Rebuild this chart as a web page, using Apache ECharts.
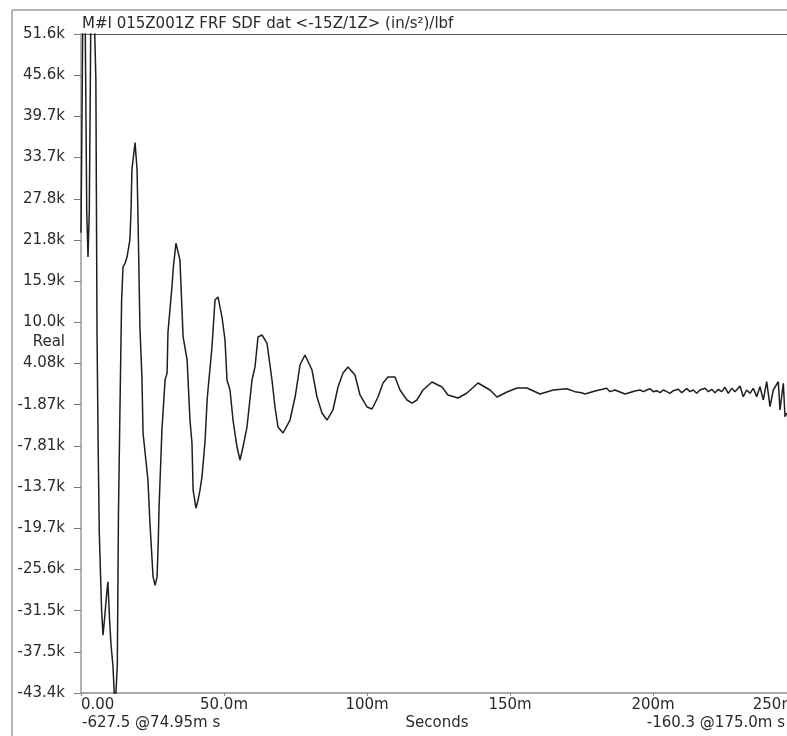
<!DOCTYPE html>
<html>
<head>
<meta charset="utf-8">
<script src="https://cdn.jsdelivr.net/npm/echarts@6/dist/echarts.min.js"></script>
<style>
html,body{margin:0;padding:0;background:#fff;}
#chart{width:787px;height:736px;}
</style>
</head>
<body>
<div id="chart"></div>
<script>
// ---- data (time in ms, real part in thousands) ----
const timeMs = [
  0, 0.7, 1.4, 2.0, 2.45, 2.9, 3.5, 4.5, 5.2, 5.6, 6.0, 6.4, 7.2, 7.7, 8.4, 8.9, 9.4, 10.0, 10.5, 11.2,
  11.9, 12.4, 12.7, 13.1, 13.6, 14.2, 14.7, 15.4, 16.1, 17.1, 17.5, 17.8, 18.9, 19.6, 19.9, 20.6, 21.3, 21.7,
  23.4, 24.1, 25.2, 25.9, 26.6, 27.0, 27.3, 28.3, 29.4, 30.1, 30.4, 31.8, 32.3, 33.2, 34.6, 35.7, 37.1, 38.1,
  38.8, 39.2, 40.2, 41.0, 41.6, 42.3, 43.4, 44.1, 44.4, 45.8, 46.85, 47.9, 49.3, 50.35, 51.05, 52.1, 53.15,
  54.55, 55.6, 56.64, 58.04, 59.79, 60.84, 61.89, 63.29, 65.03, 66.78, 67.83, 68.88, 70.63, 73.08, 74.93,
  76.57, 78.32, 80.77, 82.52, 84.27, 86.01, 88.11, 89.86, 91.61, 93.36, 95.80, 97.55, 100.0, 101.75, 103.85,
  105.59, 107.34, 109.79, 111.54, 113.99, 115.73, 117.48, 119.58, 122.73, 126.22, 128.32, 131.82, 134.97,
  138.81, 143.01, 145.45, 148.95, 152.45, 155.94, 160.49, 165.14, 169.83, 172.73, 175.0, 176.22, 179.72,
  183.81, 184.97, 186.71, 190.21, 193.71, 195.45, 196.61, 197.80, 198.95, 200.10, 201.29, 202.45, 203.60,
  204.79, 205.94, 207.10, 208.85, 210.03, 211.78, 212.94, 214.09, 215.28, 216.43, 218.18, 219.34, 220.52,
  221.68, 222.83, 224.02, 225.17, 226.33, 227.52, 228.67, 230.42, 231.57, 232.76, 233.92, 235.07, 236.26,
  237.41, 238.57, 239.76, 240.91, 242.06, 243.81, 244.41, 245.56, 246.15, 246.85
];
const realK = [
  22.9, 57, 57, 26, 19.4, 26, 57, 57, 45, 8.5, -8, -20.4, -31.5, -35.1, -32, -29.5, -27.4, -33, -36.5, -39.7,
  -46, -46, -39.4, -17.5, -3.1, 13.2, 18.0, 18.5, 19.4, 21.9, 26.2, 32.0, 35.9, 32.0, 25.8, 9.3, 2.1, -6.0,
  -12.7, -18.9, -26.7, -27.9, -26.7, -21.8, -16.6, -5.5, 1.7, 2.7, 8.5, 15.1, 18.0, 21.4, 19.0, 7.9, 4.6, -4.1,
  -7.4, -14.2, -16.8, -15.5, -14.2, -12.3, -7.0, -1.2, 0.24, 6.44, 13.2, 13.65, 10.76, 7.45, 1.68, 0.24, -4.09,
  -7.98, -9.85, -7.98, -5.1, 1.68, 3.56, 7.88, 8.17, 7.01, 1.68, -2.21, -5.10, -5.96, -4.09, -0.63,
  3.84, 5.29, 3.12, -0.77, -3.08, -4.09, -2.64, 0.67, 2.69, 3.56, 2.40, -0.48, -2.21, -2.50, -0.77,
  1.25, 2.11, 2.11, 0.24, -1.20, -1.64, -1.20, 0.24, 1.39, 0.67, -0.48, -0.91, -0.19,
  1.25, 0.24, -0.77, -0.05, 0.53, 0.53, -0.34, 0.24, 0.43, 0.0, -0.16, -0.34, 0.10,
  0.48, 0.0, 0.24, -0.34, 0.10, 0.24, 0.0, 0.24, 0.43, 0.0, 0.14, -0.15, 0.24,
  0.0, -0.24, 0.14, 0.34, -0.15, 0.43, 0.0, 0.24, -0.24, 0.24, 0.48, 0.0, 0.34,
  -0.15, 0.34, 0.0, 0.63, -0.24, 0.48, 0.0, 0.82, -0.72, 0.24, -0.24, 0.48, -0.72,
  0.72, -1.20, 1.44, -2.16, 0.24, 1.44, -2.64, 1.21, -3.60, -3.08
];

const yTickLabels = ['51.6k','45.6k','39.7k','33.7k','27.8k','21.8k','15.9k','10.0k','4.08k',
  '-1.87k','-7.81k','-13.7k','-19.7k','-25.6k','-31.5k','-37.5k','-43.4k'];
const yMax = 51.56, yMin = -43.44;
const xTickLabels = ['0.00','50.0m','100m','150m','200m','250m'];
const xMin = 0, xMax = 250, xStep = 50;

const titleText = 'M#I 015Z001Z FRF SDF dat <-15Z/1Z> (in/s\u00B2)/lbf';
const yName = 'Real';
const xName = 'Seconds';
const cursorLeft = '-627.5 @74.95m s';
const cursorRight = '-160.3 @175.0m s';

// ---- build ----
const yStep = (yMax - yMin) / (yTickLabels.length - 1);
const yTickValues = yTickLabels.map((_, i) => yMax - i * yStep);
const seriesData = timeMs.map((t, i) => [t, realK[i]]);

const FONT = 'DejaVu Sans';
const TXT = '#2a2a2a';

const chart = echarts.init(document.getElementById('chart'), null, {renderer: 'canvas'});
chart.setOption({
  animation: false,
  backgroundColor: '#ffffff',
  grid: {left: 81, top: 34, right: -9, bottom: 43, containLabel: false, outerBoundsMode: 'none'},
  xAxis: {
    type: 'value', min: xMin, max: xMax, interval: xStep,
    axisLine: {show: true, onZero: false, lineStyle: {color: '#a9a9a9', width: 2}},
    axisTick: {show: true, length: 3, lineStyle: {color: '#8a8a8a'}},
    splitLine: {show: false},
    axisLabel: {
      margin: 5, color: TXT, fontFamily: FONT, fontSize: 15,
      alignMinLabel: 'left', alignMaxLabel: 'right',
      formatter: v => xTickLabels[Math.round((v - xMin) / xStep)] || ''
    }
  },
  yAxis: {
    type: 'value', min: yMin, max: yMax,
    axisLine: {show: true, onZero: false, lineStyle: {color: '#9a9a9a', width: 1.5}},
    axisTick: {show: true, length: 7, customValues: yTickValues, lineStyle: {color: '#7a7a7a'}},
    splitLine: {show: false},
    axisLabel: {
      margin: 16, color: TXT, fontFamily: FONT, fontSize: 15,
      customValues: yTickValues,
      formatter: v => yTickLabels[Math.round((yMax - v) / yStep)] || ''
    }
  },
  graphic: [
    {type: 'line', silent: true, shape: {x1: 12, y1: 10, x2: 787, y2: 10}, style: {stroke: '#b4b4b4', lineWidth: 2}},
    {type: 'line', silent: true, shape: {x1: 12, y1: 10, x2: 12, y2: 736}, style: {stroke: '#b4b4b4', lineWidth: 2}},
    {type: 'line', silent: true, shape: {x1: 74, y1: 34.5, x2: 787, y2: 34.5}, style: {stroke: '#555', lineWidth: 1.2}},
    {type: 'text', silent: true, x: 82, y: 32, style: {text: titleText, font: '15px "DejaVu Sans"', fill: TXT, textAlign: 'left', textVerticalAlign: 'bottom'}},
    {type: 'text', silent: true, x: 65, y: 342, style: {text: yName, font: '15px "DejaVu Sans"', fill: TXT, textAlign: 'right', textVerticalAlign: 'middle'}},
    {type: 'text', silent: true, x: 82, y: 723, style: {text: cursorLeft, font: '15px "DejaVu Sans"', fill: TXT, textAlign: 'left', textVerticalAlign: 'middle'}},
    {type: 'text', silent: true, x: 437, y: 723, style: {text: xName, font: '15px "DejaVu Sans"', fill: TXT, textAlign: 'center', textVerticalAlign: 'middle'}},
    {type: 'text', silent: true, x: 785, y: 723, style: {text: cursorRight, font: '15px "DejaVu Sans"', fill: TXT, textAlign: 'right', textVerticalAlign: 'middle'}}
  ],
  series: [{
    type: 'line',
    data: seriesData,
    showSymbol: false,
    clip: true,
    lineStyle: {color: '#1e1e1e', width: 1.5},
    z: 3
  }]
});
</script>
</body>
</html>
